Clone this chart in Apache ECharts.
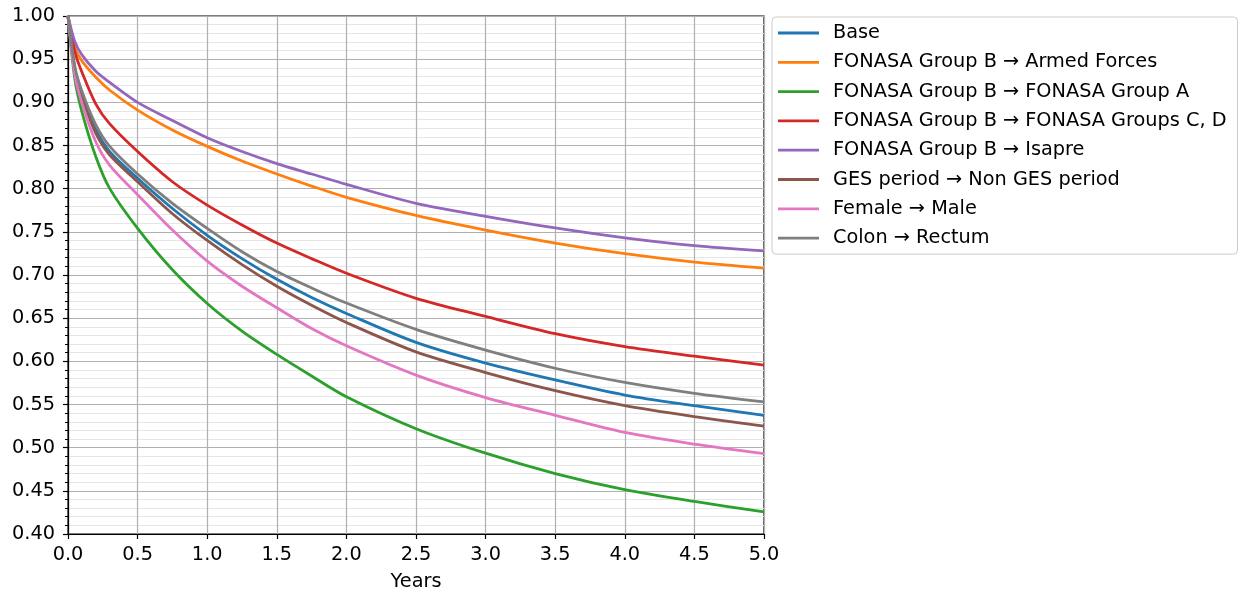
<!DOCTYPE html>
<html>
<head>
<meta charset="utf-8">
<script src="https://cdn.jsdelivr.net/npm/echarts@6/dist/echarts.min.js"></script>
<style>
html,body{margin:0;padding:0;background:#fff;}
#chart{width:1252px;height:599px;}
</style>
</head>
<body>
<div id="chart"></div>
<script>
const years = [0, 0.05, 0.1, 0.2, 0.3, 0.5, 0.75, 1.0, 1.25, 1.5, 1.75, 2.0, 2.5, 3.0, 3.5, 4.0, 4.5, 5.0];

const seriesNames = [
  'Base',
  'FONASA Group B \u2192 Armed Forces',
  'FONASA Group B \u2192 FONASA Group A',
  'FONASA Group B \u2192 FONASA Groups C, D',
  'FONASA Group B \u2192 Isapre',
  'GES period \u2192 Non GES period',
  'Female \u2192 Male',
  'Colon \u2192 Rectum'
];

const base        = [1.0, 0.938, 0.909, 0.868, 0.843, 0.812, 0.777, 0.746, 0.719, 0.695, 0.674, 0.6555, 0.622, 0.598, 0.5785, 0.561, 0.5487, 0.5375];
const armedForces = [1.0, 0.963, 0.948, 0.929, 0.914, 0.891, 0.868, 0.849, 0.832, 0.817, 0.803, 0.790, 0.769, 0.752, 0.737, 0.7247, 0.715, 0.708];
const groupA      = [1.0, 0.926, 0.889, 0.837, 0.800, 0.754, 0.706, 0.667, 0.635, 0.608, 0.583, 0.559, 0.522, 0.4936, 0.470, 0.4514, 0.4377, 0.4257];
const groupsCD    = [1.0, 0.958, 0.935, 0.898, 0.875, 0.843, 0.808, 0.781, 0.758, 0.737, 0.719, 0.702, 0.673, 0.652, 0.632, 0.617, 0.606, 0.5955];
const isapre      = [1.0, 0.970, 0.955, 0.936, 0.923, 0.900, 0.879, 0.859, 0.843, 0.829, 0.817, 0.805, 0.783, 0.768, 0.7545, 0.743, 0.734, 0.728];
const nonGES      = [1.0, 0.936, 0.906, 0.864, 0.839, 0.808, 0.771, 0.740, 0.712, 0.687, 0.665, 0.645, 0.611, 0.587, 0.566, 0.5487, 0.536, 0.525];
const male        = [1.0, 0.931, 0.899, 0.854, 0.827, 0.793, 0.752, 0.716, 0.687, 0.662, 0.638, 0.618, 0.584, 0.558, 0.5375, 0.5176, 0.504, 0.493];
const rectum      = [1.0, 0.941, 0.913, 0.874, 0.849, 0.817, 0.783, 0.754, 0.727, 0.704, 0.685, 0.6675, 0.637, 0.613, 0.592, 0.5756, 0.563, 0.553];

const seriesValues = [base, armedForces, groupA, groupsCD, isapre, nonGES, male, rectum];
const colors = ['#1f77b4', '#ff7f0e', '#2ca02c', '#d62728', '#9467bd', '#8c564b', '#e377c2', '#7f7f7f'];

const xTicks = { min: 0, max: 5, interval: 0.5 };
const yTicks = { min: 0.4, max: 1.0, interval: 0.05 };

const font = 'DejaVu Sans';
const fs = 19.3;

const chart = echarts.init(document.getElementById('chart'), null, { renderer: 'canvas' });

const series = seriesNames.map((name, i) => ({
  name: name,
  type: 'line',
  data: years.map((x, j) => [x, seriesValues[i][j]]),
  symbol: 'none',
  smooth: 0.3,
  lineStyle: { color: colors[i], width: 2.8 },
  itemStyle: { color: colors[i] },
  z: 3
}));

chart.setOption({
  animation: false,
  backgroundColor: '#fff',
  grid: {
    left: 68, right: 488, top: 16, bottom: 65,
    show: true, borderColor: '#000', borderWidth: 1.2, backgroundColor: 'transparent'
  },
  xAxis: {
    type: 'value',
    min: xTicks.min, max: xTicks.max, interval: xTicks.interval,
    name: 'Years', nameLocation: 'middle', nameGap: 38,
    nameTextStyle: { fontFamily: font, fontSize: fs, color: '#000' },
    axisLine: { show: true, onZero: false, lineStyle: { color: '#000', width: 1.2 } },
    axisTick: { show: true, inside: false, length: 5, lineStyle: { color: '#000', width: 1.2 } },
    axisLabel: { fontFamily: font, fontSize: fs, color: '#000', margin: 11,
      formatter: v => v.toFixed(1) },
    splitLine: { show: true, lineStyle: { color: '#b0b0b0', width: 1.2 } }
  },
  yAxis: {
    type: 'value',
    min: yTicks.min, max: yTicks.max, interval: yTicks.interval,
    axisLine: { show: true, onZero: false, lineStyle: { color: '#000', width: 1.2 } },
    axisTick: { show: true, inside: false, length: 5, lineStyle: { color: '#000', width: 1.2 } },
    minorTick: { show: true, splitNumber: 5, length: 3, lineStyle: { color: '#000', width: 1 } },
    axisLabel: { fontFamily: font, fontSize: fs, color: '#000', margin: 13,
      formatter: v => v.toFixed(2) },
    splitLine: { show: true, lineStyle: { color: '#b0b0b0', width: 1.2 } },
    minorSplitLine: { show: true, lineStyle: { color: '#e6e6e6', width: 1 } }
  },
  legend: {
    orient: 'vertical',
    left: 772, top: 17,
    padding: [5, 11, 5, 6],
    itemGap: 7.3,
    itemWidth: 41, itemHeight: 2.8,
    borderColor: '#cccccc', borderWidth: 1, borderRadius: 4,
    backgroundColor: '#fff',
    textStyle: { fontFamily: font, fontSize: fs, color: '#000', lineHeight: 22, padding: [0, 0, 0, 9] },
    data: seriesNames.map((n, i) => ({ name: n, icon: 'rect', itemStyle: { color: colors[i], borderWidth: 0 } }))
  },
  series: series
});
</script>
</body>
</html>
